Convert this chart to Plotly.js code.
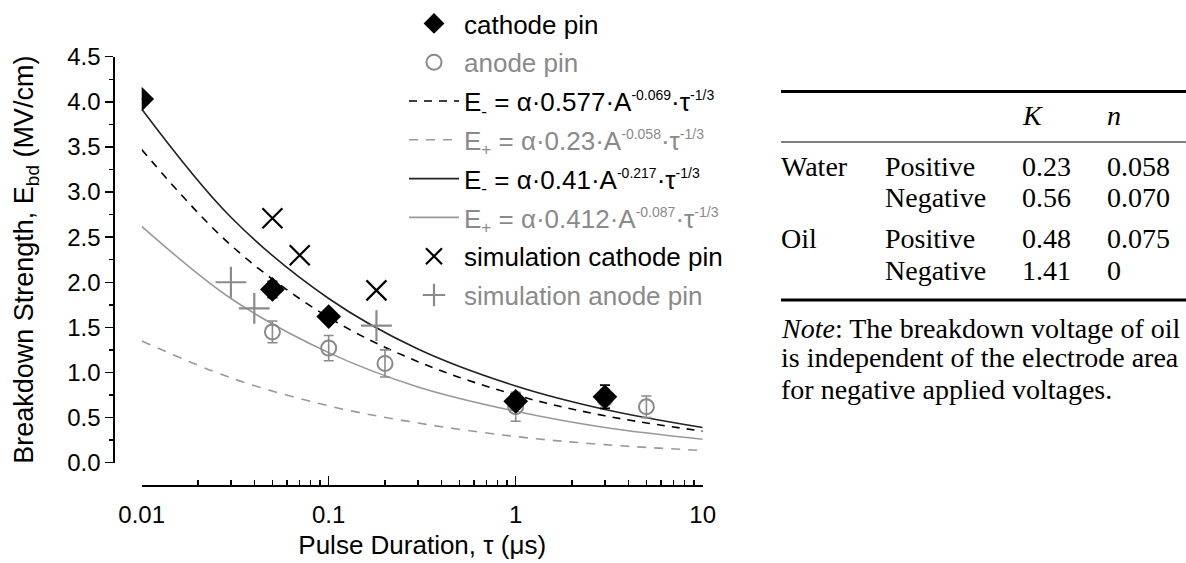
<!DOCTYPE html>
<html>
<head>
<meta charset="utf-8">
<script src="https://cdn.plot.ly/plotly-3.0.1.min.js"></script>
<style>
  html, body { margin: 0; padding: 0; background: #fff; }
  #chart { width: 1186px; height: 563px; }
</style>
</head>
<body>
<div id="chart"></div>
<script>
// ---------------- data ----------------
const tauCathode = [0.01, 0.05, 0.1, 1, 3];
const eCathode   = [4.03, 1.92, 1.62, 0.68, 0.73];
const errCathode = [0, 0.09, 0.07, 0.08, 0.13];

const tauAnode = [0.05, 0.1, 0.2, 1, 3, 5];
const eAnode   = [1.45, 1.27, 1.10, 0.62, 0.71, 0.62];
const errAnode = [0.12, 0.14, 0.15, 0.16, 0.10, 0.12];

const tauSimCathode = [0.05, 0.07, 0.18];
const eSimCathode   = [2.71, 2.30, 1.91];
const tauSimAnode   = [0.03, 0.04, 0.18];
const eSimAnode     = [2.00, 1.71, 1.52];

const tauFit       = [0.01, 0.03, 0.1, 0.3, 1, 3, 10];
const fitNegDashed = [3.47, 2.41, 1.61, 1.12, 0.75, 0.52, 0.35];
const fitPosDashed = [1.35, 0.94, 0.63, 0.44, 0.29, 0.20, 0.135];
const fitNegSolid  = [3.92, 2.72, 1.82, 1.26, 0.85, 0.59, 0.39];
const fitPosSolid  = [2.62, 1.82, 1.22, 0.84, 0.57, 0.39, 0.26];

const xTickVals   = [0.01, 0.1, 1, 10];
const xTickText   = ['0.01', '0.1', '1', '10'];

const tableHeader    = ['K', 'n'];
const tableMaterial  = ['Water', '', 'Oil', ''];
const tablePolarity  = ['Positive', 'Negative', 'Positive', 'Negative'];
const tableK         = ['0.23', '0.56', '0.48', '1.41'];
const tableN         = ['0.058', '0.070', '0.075', '0'];
const noteLines = [
  '<i>Note</i>: The breakdown voltage of oil',
  'is independent of the electrode area',
  'for negative applied voltages.'
];

// ---------------- layout helpers ----------------
const W = 1186, H = 563;
const px = v => v / W;
const py = v => 1 - v / H;
const BLACK = '#000000';
const GRAY = '#8a8a8a';
const FONT = 'Liberation Sans, Arial, sans-serif';
const SERIF = 'Liberation Serif, Times New Roman, serif';

const minorX = [];
[0.01, 0.1, 1].forEach(d => { for (let k = 2; k <= 9; k++) minorX.push(+(d * k).toPrecision(3)); });

const sp = (s, c) => '<span style="color:' + c + '">' + s + '</span>';
const sup = (s, c) => '<sup><span style="font-size:14px;color:' + c + '">' + s + '</span></sup>';
const sub = (s, c) => '<sub><span style="font-size:17px;color:' + c + '">' + s + '</span></sub>';
const formula = (sign, k, n, c) =>
  sp('E', c) + sub(sign, c) + sp(' = α·' + k + '·A', c) + sup('-' + n, c) + sp('·τ', c) + sup('-1/3', c);

const traces = [
  {x: tauFit, y: fitPosDashed, mode: 'lines', line: {color: '#999999', width: 1.6, dash: '9px,8px', shape: 'spline'},
   name: formula('+', '0.23', '0.058', GRAY), legendrank: 4, legendgroup: 'g4'},
  {x: tauFit, y: fitPosSolid, mode: 'lines', line: {color: '#999999', width: 1.6, shape: 'spline'},
   name: formula('+', '0.412', '0.087', GRAY), legendrank: 6, legendgroup: 'g6'},
  {x: tauFit, y: fitNegDashed, mode: 'lines', line: {color: BLACK, width: 1.6, dash: '8px,7px', shape: 'spline'},
   name: formula('-', '0.577', '0.069', BLACK), legendrank: 3, legendgroup: 'g3'},
  {x: tauFit, y: fitNegSolid, mode: 'lines', line: {color: '#222222', width: 1.6, shape: 'spline'},
   name: formula('-', '0.41', '0.217', BLACK), legendrank: 5, legendgroup: 'g5'},
  {x: tauSimAnode, y: eSimAnode, mode: 'markers',
   marker: {symbol: 'cross-thin-open', size: 22, color: GRAY, line: {color: GRAY, width: 2.2}},
   name: sp('simulation anode pin', GRAY), legendrank: 8, legendgroup: 'g8'},
  {x: tauSimCathode, y: eSimCathode, mode: 'markers',
   marker: {symbol: 'x-thin-open', size: 20, color: BLACK, line: {color: BLACK, width: 2.2}},
   name: 'simulation cathode pin', legendrank: 7, legendgroup: 'g7'},
  {x: tauAnode, y: eAnode, mode: 'markers',
   marker: {symbol: 'circle-open', size: 15, color: GRAY, line: {color: GRAY, width: 2}},
   error_y: {type: 'data', array: errAnode, visible: true, color: GRAY, thickness: 1.6, width: 5},
   name: sp('anode pin', GRAY), legendrank: 2, legendgroup: 'g2'},
  {x: tauCathode, y: eCathode, mode: 'markers',
   marker: {symbol: 'diamond', size: 19, color: BLACK},
   error_y: {type: 'data', array: errCathode, visible: true, color: BLACK, thickness: 1.6, width: 5},
   name: 'cathode pin', legendrank: 1, legendgroup: 'g1'}
];

// ---------------- table (annotations + rules) ----------------
const annotations = [];
const shapes = [];
const tFont = {family: SERIF, size: 28, color: '#000'};
const tLeft = 779, colPol = 883, colK = 1020, colN = 1105;
const rowY = [166, 197, 238, 270];

shapes.push({type: 'line', xref: 'paper', yref: 'paper', x0: px(781), x1: px(1186), y0: py(91.5), y1: py(91.5), line: {color: '#000', width: 3}});
shapes.push({type: 'line', xref: 'paper', yref: 'paper', x0: px(781), x1: px(1186), y0: py(142), y1: py(142), line: {color: '#000', width: 1.2}});
shapes.push({type: 'line', xref: 'paper', yref: 'paper', x0: px(781), x1: px(1186), y0: py(300), y1: py(300), line: {color: '#000', width: 3}});

annotations.push({xref: 'paper', yref: 'paper', x: px(colK), y: py(115), xanchor: 'left', yanchor: 'middle', showarrow: false, text: '<i>' + tableHeader[0] + '</i>', font: tFont});
annotations.push({xref: 'paper', yref: 'paper', x: px(colN), y: py(115), xanchor: 'left', yanchor: 'middle', showarrow: false, text: '<i>' + tableHeader[1] + '</i>', font: tFont});
for (let i = 0; i < tablePolarity.length; i++) {
  const y = py(rowY[i]);
  if (tableMaterial[i]) annotations.push({xref: 'paper', yref: 'paper', x: px(tLeft), y: y, xanchor: 'left', yanchor: 'middle', showarrow: false, text: tableMaterial[i], font: tFont});
  annotations.push({xref: 'paper', yref: 'paper', x: px(colPol), y: y, xanchor: 'left', yanchor: 'middle', showarrow: false, text: tablePolarity[i], font: tFont});
  annotations.push({xref: 'paper', yref: 'paper', x: px(colK), y: y, xanchor: 'left', yanchor: 'middle', showarrow: false, text: tableK[i], font: tFont});
  annotations.push({xref: 'paper', yref: 'paper', x: px(colN), y: y, xanchor: 'left', yanchor: 'middle', showarrow: false, text: tableN[i], font: tFont});
}
const noteY = [328, 358, 389];
noteLines.forEach((t, i) => annotations.push({xref: 'paper', yref: 'paper', x: px(tLeft), y: py(noteY[i]), xanchor: 'left', yanchor: 'middle', showarrow: false, text: t, font: tFont}));

// ---------------- layout ----------------
const layout = {
  width: W, height: H,
  margin: {l: 0, r: 0, t: 0, b: 0},
  paper_bgcolor: '#fff', plot_bgcolor: '#fff',
  font: {family: FONT, color: '#000', size: 24},
  showlegend: true,
  legend: {
    x: px(404), y: 1, xanchor: 'left', yanchor: 'top',
    bgcolor: 'rgba(0,0,0,0)', borderwidth: 0,
    font: {family: FONT, size: 26, color: '#000'},
    itemwidth: 50, traceorder: 'grouped', tracegroupgap: 2
  },
  xaxis: {
    type: 'log', range: [-2, 1],
    domain: [px(141.7), px(702.7)],
    anchor: 'free', position: 1 - 485 / H,
    showline: true, linecolor: '#000', linewidth: 1.5,
    showgrid: false, zeroline: false,
    tickmode: 'array', tickvals: xTickVals, ticktext: xTickText,
    ticks: 'inside', ticklen: 9, tickwidth: 1.5, tickcolor: '#000',
    ticklabelstandoff: 8,
    minor: {tickmode: 'array', tickvals: minorX, ticks: 'inside', ticklen: 5, tickwidth: 1.5, tickcolor: '#000', showgrid: false},
    tickfont: {family: FONT, size: 24, color: '#000'},
    title: {text: 'Pulse Duration, τ (μs)', font: {family: FONT, size: 26, color: '#000'}, standoff: 8}
  },
  yaxis: {
    range: [0, 4.5],
    domain: [1 - 462.7 / H, 1 - 56.7 / H],
    anchor: 'free', position: px(113.3),
    showline: true, linecolor: '#000', linewidth: 1.5,
    showgrid: false, zeroline: false,
    tickmode: 'linear', tick0: 0, dtick: 0.5, tickformat: '.1f',
    ticks: 'outside', ticklen: 8, tickwidth: 1.5, tickcolor: '#000',
    minor: {dtick: 0.25, ticks: 'outside', ticklen: 4, tickwidth: 1.5, tickcolor: '#000', showgrid: false},
    tickfont: {family: FONT, size: 24, color: '#000'},
    title: {text: 'Breakdown Strength, E<sub>bd</sub> (MV/cm)', font: {family: FONT, size: 27, color: '#000'}, standoff: 24}
  },
  shapes: shapes,
  annotations: annotations
};

Plotly.newPlot('chart', traces, layout, {displayModeBar: false, staticPlot: true});
</script>
</body>
</html>
